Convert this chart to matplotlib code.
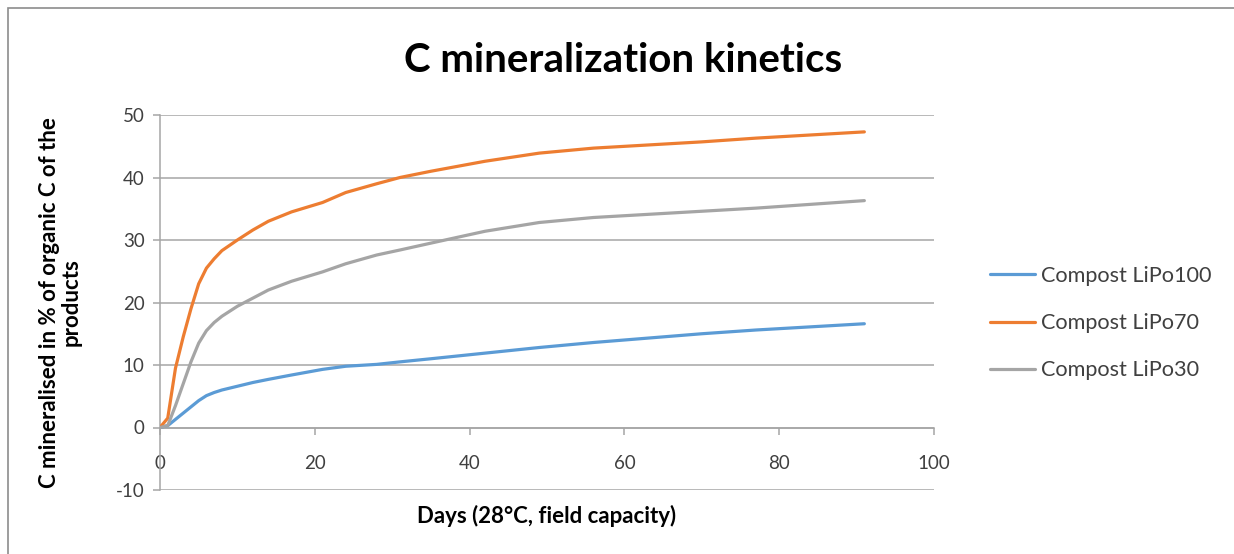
import matplotlib

matplotlib.use("Agg")
import matplotlib.pyplot as plt
from matplotlib.patches import Rectangle

GRID = "#A6A6A6"
TEXT = "#404040"

plt.rcParams.update(
    {
        "font.family": ["Lato", "DejaVu Sans"],
        "font.size": 13,
        "axes.unicode_minus": False,
    }
)

days = [0, 1, 2, 3, 4, 5, 6, 7, 8, 10, 12, 14, 17, 21, 24, 28, 31, 35,
        42, 49, 56, 63, 70, 77, 84, 91]
lipo100 = [0, 0.3, 1.3, 2.3, 3.3, 4.3, 5.1, 5.6, 6.0, 6.6, 7.2, 7.7, 8.4,
           9.3, 9.8, 10.1, 10.5, 11.0, 11.9, 12.8, 13.6, 14.3, 15.0, 15.6,
           16.1, 16.6]
lipo70 = [0, 1.5, 9.5, 14.5, 19.0, 23.0, 25.5, 27.0, 28.3, 30.0, 31.6, 33.0,
          34.5, 36.0, 37.6, 39.0, 40.0, 41.0, 42.6, 43.9, 44.7, 45.2, 45.7,
          46.3, 46.8, 47.3]
lipo30 = [0, 0.3, 3.5, 7.0, 10.5, 13.5, 15.5, 16.8, 17.8, 19.4, 20.7, 22.0,
          23.4, 24.9, 26.2, 27.6, 28.4, 29.5, 31.4, 32.8, 33.6, 34.1, 34.6,
          35.1, 35.7, 36.3]

series = [
    ("Compost LiPo100", lipo100, "#5B9BD5"),
    ("Compost LiPo70", lipo70, "#ED7D31"),
    ("Compost LiPo30", lipo30, "#A5A5A5"),
]

x_ticks = [0, 20, 40, 60, 80, 100]
y_ticks = [-10, 0, 10, 20, 30, 40, 50]

fig = plt.figure(figsize=(12.34, 5.54), dpi=100)
fig.patches.append(
    Rectangle((8 / 1234, -0.1), 1.2, 1.1 - 8 / 554, transform=fig.transFigure,
              fill=False, edgecolor="#8C8C8C", linewidth=1.2)
)
ax = fig.add_axes([160 / 1234, 1 - 490 / 554, 774 / 1234, 375 / 554])

for label, vals, color in series:
    ax.plot(days, vals, color=color, lw=2.3, label=label, solid_capstyle="round",
            zorder=3)

ax.set_xlim(0, 100)
ax.set_ylim(-10, 50)
ax.set_xticks(x_ticks)
ax.set_yticks(y_ticks)
ax.grid(axis="y", color=GRID, lw=1.1, zorder=0)
ax.set_axisbelow(True)

for side in ("top", "right"):
    ax.spines[side].set_visible(False)
ax.spines["bottom"].set_position(("data", 0))
ax.spines["bottom"].set_color(GRID)
ax.spines["left"].set_color(GRID)
ax.spines["bottom"].set_linewidth(1.1)
ax.spines["left"].set_linewidth(1.1)
ax.tick_params(axis="both", colors=GRID, labelcolor=TEXT, length=5,
               width=1.1, labelsize=13.5)
ax.tick_params(axis="x", pad=15)
ax.tick_params(axis="y", pad=6)

ax.set_xlabel("Days (28°C, field capacity)", fontsize=16, fontweight="bold",
              color="black")
ax.xaxis.set_label_coords(0.5, -0.04)
ax.set_ylabel("C mineralised in % of organic C of the\nproducts", fontsize=16,
              fontweight="bold", color="black", linespacing=1.05)
ax.yaxis.set_label_coords(-0.101, 0.5)

fig.text(623 / 1234, 1 - 60 / 554, "C mineralization kinetics", fontsize=29,
         fontweight="bold", ha="center", va="center")

ax.legend(loc="center left", bbox_to_anchor=(1.047, 0.445), frameon=False,
          fontsize=15.6, handlelength=2.1, handletextpad=0.25, labelspacing=1.25,
          labelcolor=TEXT)

fig.savefig("out.png", dpi=100, facecolor="white")
